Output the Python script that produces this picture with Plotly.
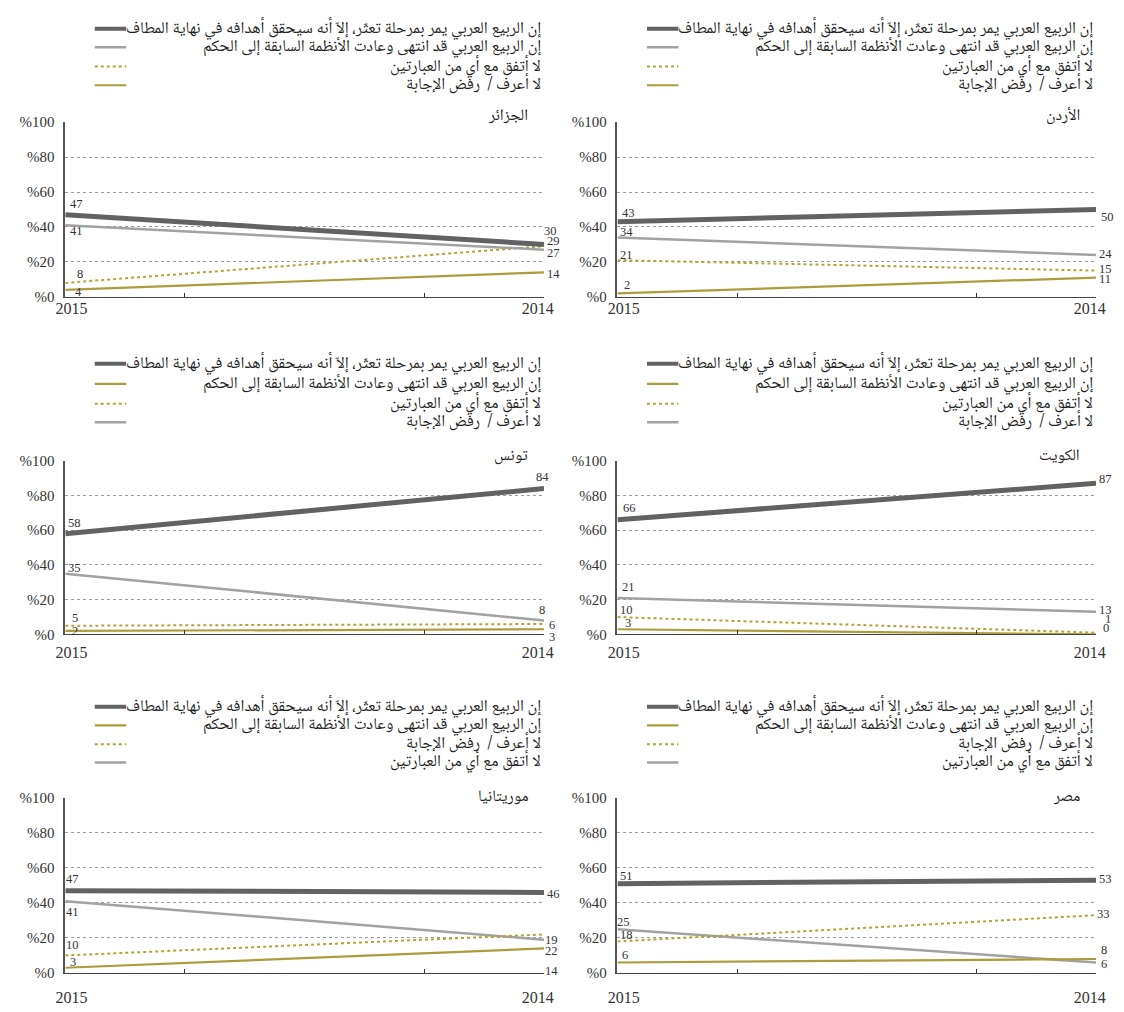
import plotly.graph_objects as go

# ---------------- data ----------------
years = ["2015", "2014"]
y_ticks = [0, 20, 40, 60, 80, 100]
y_tick_labels = ["%0", "%20", "%40", "%60", "%80", "%100"]

countries = ["الجزائر", "الأردن", "تونس", "الكويت", "موريتانيا", "مصر"]

LBL_STUMBLE = "إن الربيع العربي يمر بمرحلة تعثّر، إلاّ أنه سيحقق أهدافه في نهاية المطاف"
LBL_ENDED = "إن الربيع العربي قد انتهى وعادت الأنظمة السابقة إلى الحكم"
LBL_NEITHER = "لا أتفق مع أي من العبارتين"
LBL_DK = "لا أعرف /  رفض الإجابة"

# values: [2015, 2014]
algeria_stumble = [47, 30]
algeria_ended = [41, 27]
algeria_neither = [8, 29]
algeria_dk = [4, 14]

jordan_stumble = [43, 50]
jordan_ended = [34, 24]
jordan_neither = [21, 15]
jordan_dk = [2, 11]

tunisia_stumble = [58, 84]
tunisia_ended = [2, 3]
tunisia_neither = [5, 6]
tunisia_dk = [35, 8]

kuwait_stumble = [66, 87]
kuwait_ended = [3, 0]
kuwait_neither = [10, 1]
kuwait_dk = [21, 13]

mauritania_stumble = [47, 46]
mauritania_ended = [3, 14]
mauritania_dk = [10, 22]
mauritania_neither = [41, 19]

egypt_stumble = [51, 53]
egypt_ended = [6, 8]
egypt_dk = [18, 33]
egypt_neither = [25, 6]

# ---------------- styles / layout ----------------
STYLE = {
    "dark": dict(color="#626262", width=5, dash="solid"),
    "gray": dict(color="#a2a2a2", width=2.5, dash="solid"),
    "dotted": dict(color="#b3a43a", width=2, dash="dot"),
    "olive": dict(color="#ab9d3d", width=2.2, dash="solid"),
}

W, H = 1124, 1012
COLS = [(56.3, 543.7), (618.5, 1105.7)]
ROWS = [(116, 293.5), (460, 636.5), (802.5, 980.5)]
LEGEND_ROWS = [[21, 40, 59.5, 78.5], [361.5, 382, 402, 421], [710, 729, 748, 766.5]]
YEAR_STANDOFF = [-3, 3, 10]
TITLE_YSHIFT = [6, 4, 0]

AR_FONT = "Noto Naskh Arabic, Amiri, DejaVu Sans, serif"
NUM_FONT = "Liberation Serif, Times New Roman, serif"

# each panel: (country, [(legend label, values, style, (ldx, ldy, rdx, rdy, ranchor))])
panels = [
    (countries[0], [
        (LBL_STUMBLE, algeria_stumble, "dark", (3, 11, -2.5, 13, "left")),
        (LBL_ENDED, algeria_ended, "gray", (3, -6, 1, -3, "left")),
        (LBL_NEITHER, algeria_neither, "dotted", (10, 9, 1, 5, "left")),
        (LBL_DK, algeria_dk, "olive", (8, -2, 1, -2, "left")),
    ]),
    (countries[1], [
        (LBL_STUMBLE, jordan_stumble, "dark", (3, 9, 3, -7, "left")),
        (LBL_ENDED, jordan_ended, "gray", (1, 5, 1, 1, "left")),
        (LBL_NEITHER, jordan_neither, "dotted", (1, 5, 1, 1.5, "left")),
        (LBL_DK, jordan_dk, "olive", (5, 8, 1, -1, "left")),
    ]),
    (countries[2], [
        (LBL_STUMBLE, tunisia_stumble, "dark", (1, 11, -2, 11.5, "center")),
        (LBL_ENDED, tunisia_ended, "olive", (5, 0, 3, -8, "left")),
        (LBL_NEITHER, tunisia_neither, "dotted", (5, 7.5, 3, -1, "left")),
        (LBL_DK, tunisia_dk, "gray", (1, 6, -2, 11, "center")),
    ]),
    (countries[3], [
        (LBL_STUMBLE, kuwait_stumble, "dark", (4, 11.5, 1, 4, "left")),
        (LBL_ENDED, kuwait_ended, "olive", (6, 6, 5, 6, "left")),
        (LBL_NEITHER, kuwait_neither, "dotted", (1, 7, 6.5, 14, "left")),
        (LBL_DK, kuwait_dk, "gray", (3, 10.5, 1, 2, "left")),
    ]),
    (countries[4], [
        (LBL_STUMBLE, mauritania_stumble, "dark", (-1, 11.5, 1, -1.5, "left")),
        (LBL_ENDED, mauritania_ended, "olive", (3, 5.5, -1, -23, "left")),
        (LBL_DK, mauritania_dk, "dotted", (-1, 10, -1, -16.5, "left")),
        (LBL_NEITHER, mauritania_neither, "gray", (-1, -11, -1, 0, "left")),
    ]),
    (countries[5], [
        (LBL_STUMBLE, egypt_stumble, "dark", (1, 8, 1, 1.5, "left")),
        (LBL_ENDED, egypt_ended, "olive", (3, 7, 3, 8.5, "left")),
        (LBL_DK, egypt_dk, "dotted", (1, 6, -1, 1, "left")),
        (LBL_NEITHER, egypt_neither, "gray", (-2.5, 7, 3, -2, "left")),
    ]),
]

x_idx = [i / (len(years) - 1) for i in range(len(years))]

fig = go.Figure()
annotations = []
shapes = []

for p, (country, series) in enumerate(panels):
    r, c = divmod(p, 2)
    n = p + 1
    xa = "x" if n == 1 else f"x{n}"
    ya = "y" if n == 1 else f"y{n}"
    xl, xr = COLS[c]
    yt, yb = ROWS[r]

    for label, vals, st, off in reversed(series):
        s = STYLE[st]
        fig.add_trace(go.Scatter(
            x=x_idx, y=vals, mode="lines", xaxis=xa, yaxis=ya,
            line=dict(color=s["color"], width=s["width"], dash=s["dash"]),
            showlegend=False, hoverinfo="skip", cliponaxis=False,
        ))
    for label, vals, st, off in series:
        ldx, ldy, rdx, rdy, ranchor = off
        for xi, v, dx, dy, anc in [(x_idx[0], vals[0], ldx, ldy, "left"),
                                    (x_idx[-1], vals[-1], rdx, rdy, ranchor)]:
            annotations.append(dict(
                x=xi, y=v, xref=xa, yref=ya, text=str(v), showarrow=False,
                xanchor=anc, yanchor="middle", xshift=dx, yshift=dy,
                font=dict(family=NUM_FONT, size=12.5, color="#333333"),
            ))

    ax_suffix = "" if n == 1 else str(n)
    fig.layout["xaxis" + ax_suffix] = dict(
        domain=[xl / W, xr / W], range=[0, 1], anchor=ya,
        tickmode="array", tickvals=[0.013, 0.987], ticktext=years,
        ticks="", showgrid=False, zeroline=False,
        showline=True, linecolor="#444444", linewidth=1.2,
        tickfont=dict(family=NUM_FONT, size=16, color="#333333"),
        ticklabelstandoff=YEAR_STANDOFF[r],
        minor=dict(tickmode="array", tickvals=[0.25, 0.75], ticks="inside",
                   ticklen=4, tickcolor="#333333", tickwidth=1, showgrid=False),
        fixedrange=True,
    )
    fig.layout["yaxis" + ax_suffix] = dict(
        domain=[1 - yb / H, 1 - yt / H], range=[0, 100], anchor=xa,
        tickmode="array", tickvals=y_ticks, ticktext=y_tick_labels,
        ticks="", showgrid=True, gridcolor="#9a9a9a", griddash="dot", gridwidth=1,
        zeroline=False, showline=True, linecolor="#555555", linewidth=1.5,
        tickfont=dict(family=NUM_FONT, size=15, color="#333333"),
        ticklabelstandoff=6, fixedrange=True,
    )

    annotations.append(dict(
        x=1, y=1, xref=f"{xa} domain", yref=f"{ya} domain", text=country,
        showarrow=False, xanchor="right", yanchor="middle", xshift=-14,
        yshift=TITLE_YSHIFT[r], font=dict(family=AR_FONT, size=16, color="#222222"),
    ))

    text_right = (xr - 0.7) / W
    sym_l = (xl + 30) / W
    sym_r = (xl + 62) / W
    for k, (label, vals, st, off) in enumerate(series):
        yy = 1 - LEGEND_ROWS[r][k] / H
        annotations.append(dict(
            x=text_right, y=yy, xref="paper", yref="paper", text=label,
            showarrow=False, xanchor="right", yanchor="middle",
            font=dict(family=AR_FONT, size=16.5, color="#222222"),
        ))
        s = STYLE[st]
        shapes.append(dict(
            type="line", xref="paper", yref="paper",
            x0=sym_l, x1=sym_r, y0=yy, y1=yy,
            line=dict(color=s["color"], width=min(s["width"], 4),
                      dash="dot" if s["dash"] == "dot" else "solid"),
        ))

fig.update_layout(
    width=W, height=H, margin=dict(l=0, r=0, t=0, b=0),
    paper_bgcolor="white", plot_bgcolor="white",
    annotations=annotations, shapes=shapes, showlegend=False,
)

fig.write_html(
    "out.html",
    config={"displayModeBar": False},
    post_script="document.body.style.margin='0';document.body.style.padding='0';"
                "document.body.style.overflow='hidden';"
                "document.documentElement.style.overflow='hidden';",
)
